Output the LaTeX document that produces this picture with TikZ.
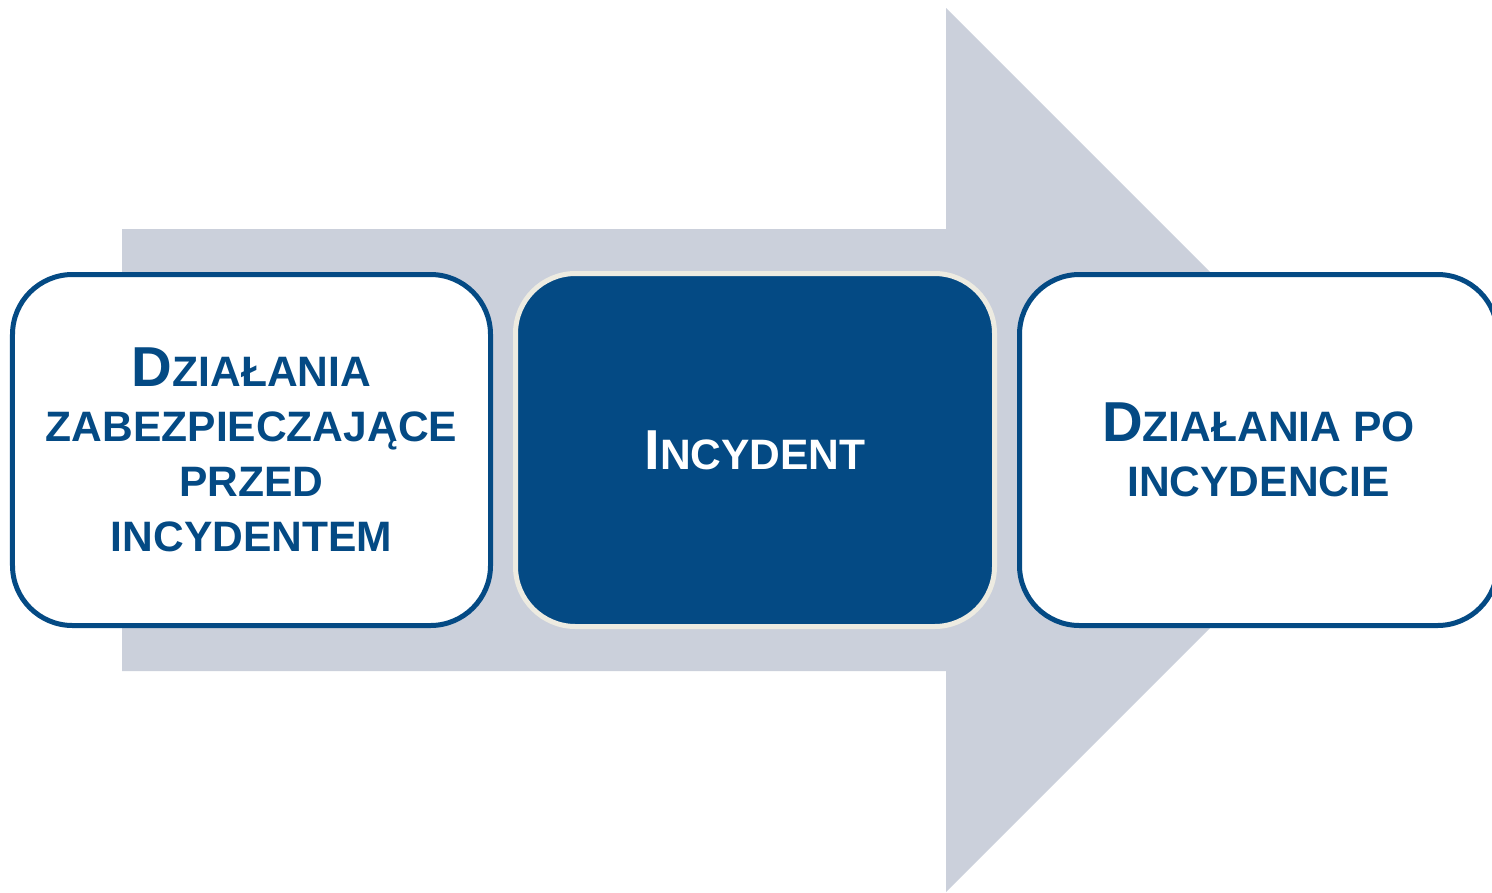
\documentclass[tikz,border=0pt]{standalone}
\usepackage{fontspec}
\setmainfont{Liberation Sans}
\definecolor{arrowgray}{HTML}{CBD0DB}
\definecolor{navy}{HTML}{044A84}
\definecolor{cream}{HTML}{EDEBE1}
% large initial letter followed by small capitals
\newcommand{\initcap}[2]{{\fontsize{56.5}{55}\selectfont #1}#2}
\begin{document}
\begin{tikzpicture}[x=1bp,y=-1bp,
  box/.style={rounded corners=60bp, line width=5bp, minimum width=478bp,
    minimum height=351bp, align=center, inner sep=0pt,
    font=\fontsize{42.7}{55.3}\selectfont\bfseries},
  plainbox/.style={box, draw=navy, fill=white, text=navy},
  keybox/.style={box, draw=cream, fill=navy, text=white}]
  \useasboundingbox (0,0) rectangle (1492,892);
  \clip (0,0) rectangle (1492,892);
  % broad arrow in the background
  \fill[arrowgray] (122,229) -- (946,229) -- (946,8) -- (1388,450)
    -- (946,892) -- (946,671) -- (122,671) -- cycle;
  % the three stages
  \node[plainbox] (before) at (251.5,450)
    {\initcap{D}{ZIAŁANIA}\\ZABEZPIECZAJĄCE\\PRZED\\INCYDENTEM};
  \node[keybox, minimum width=479bp, minimum height=353bp] (incident) at (755,450)
    {\initcap{I}{NCYDENT}};
  \node[plainbox] (after) at (1258.5,450)
    {\initcap{D}{ZIAŁANIA PO}\\INCYDENCIE};
\end{tikzpicture}
\end{document}
